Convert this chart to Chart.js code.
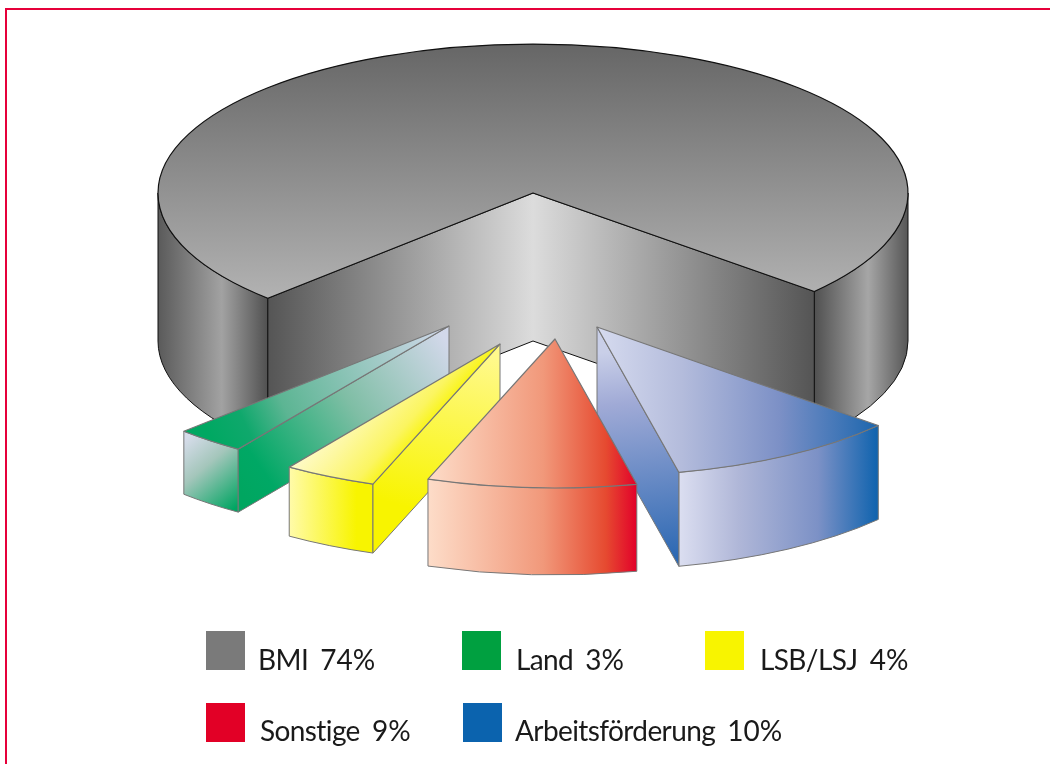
<!DOCTYPE html>
<html lang="de">
<head>
<meta charset="utf-8">
<title>Finanzierung</title>
<script src="https://cdn.jsdelivr.net/npm/chart.js@4"></script>
<style>
  html, body { margin: 0; padding: 0; background: #fff; overflow: hidden; }
  #wrap { position: relative; width: 1050px; height: 764px; overflow: hidden; }
  #frame { position: absolute; left: 5px; top: 8px; width: 1100px; height: 800px;
           border-left: 2.5px solid #e6003a; border-top: 2.5px solid #e6003a; }
  canvas { position: absolute; left: 0; top: 0; }
  .swatch { position: absolute; width: 39px; height: 39px; }
  .label { position: absolute; font: 28px Lato, sans-serif; line-height: 40px; color: #1a1a1a; white-space: nowrap; word-spacing: 5px; }
  .label span { letter-spacing: -0.6px; }
</style>
</head>
<body>
<div id="wrap">
  <div id="frame"></div>
  <canvas id="pie" width="1050" height="764"></canvas>
</div>
<script>
// ===== Data =====
const categories = ['BMI', 'Land', 'LSB/LSJ', 'Sonstige', 'Arbeitsförderung'];
const shares = [74, 3, 4, 9, 10];
const legendColors = ['#7a7a7a', '#00a040', '#f8f400', '#e20026', '#0b63ae'];
// clockwise order around the pie, the legend runs the other way
const sliceOrder = [0, 4, 3, 2, 1];

// ===== Look of the 3D pie =====
const PIE_Y = 193;      // screen y of the pie centre
const SQUASH = 0.397;   // ellipse ry / rx
const explode = { BMI: [0, 0], Land: [-84, 133], 'LSB/LSJ': [-33, 151], Sonstige: [22, 146], 'Arbeitsförderung': [64, 134] };
const depth = { BMI: 148, Land: 63, 'LSB/LSJ': 69, Sonstige: 87, 'Arbeitsförderung': 94 };
const lineColor = { BMI: '#111', Land: '#777', 'LSB/LSJ': '#777', Sonstige: '#777', 'Arbeitsförderung': '#777' };

// gradients: [x0, y0, x1, y1, [stop, color], ...] in screen coordinates
const topFill = {
  BMI: [0, 44, 0, 298, [0, '#666'], [1, '#b2b2b2']],
  Land: [212, 440, 449, 325, [0, '#00a862'], [0.14, '#0fa86c'], [0.3, '#5cb593'], [1, '#d6daee']],
  'LSB/LSJ': [300, 425, 385, 500, [0.15, '#fffbd0'], [0.4, '#fdf8a0'], [0.7, '#fbf560'], [0.9, '#f8f400']],
  Sonstige: [429, 0, 637, 0, [0, '#fddcc8'], [0.55, '#f1987a'], [0.85, '#e64a30'], [1, '#e2002a']],
  'Arbeitsförderung': [597, 0, 878, 0, [0, '#d6dbef'], [0.3, '#b4bcdc'], [0.65, '#7c90c6'], [1, '#1c66ae']]
};
const outerFill = {
  BMILeft: [158, 0, 268, 0, [0, '#5a5a5a'], [0.58, '#a2a2a2'], [1, '#505050']],
  BMIRight: [813, 0, 908, 0, [0, '#4e4e4e'], [0.58, '#a6a6a6'], [1, '#565656']],
  Land: [184, 440, 239, 505, [0, '#d6dcea'], [0.4, '#a4c6bb'], [1, '#00a562']],
  'LSB/LSJ': [290, 0, 373, 0, [0, '#fffba8'], [0.8, '#f8f400'], [1, '#f8f400']],
  Sonstige: [429, 0, 637, 0, [0, '#fddcc8'], [0.55, '#f1987a'], [0.85, '#e64a30'], [1, '#e2002a']],
  'Arbeitsförderung': [678, 0, 878, 0, [0, '#dcdff1'], [0.3, '#b0b7d8'], [0.7, '#7c91c6'], [1, '#0f63ae']]
};
const cutFill = {
  BMILeft: [268, 0, 533, 0, [0, '#555'], [1, '#dcdcdc']],
  BMIRight: [533, 0, 813, 0, [0, '#dcdcdc'], [1, '#555']],
  Land: [239, 490, 449, 345, [0, '#00a660'], [0.12, '#00a865'], [0.55, '#7fbea5'], [1, '#d2d8ea']],
  'LSB/LSJ': [420, 530, 470, 350, [0.1, '#f8f400'], [1, '#fff98c']],
  'Arbeitsförderung': [625, 350, 650, 560, [0, '#c9cfe8'], [0.25, '#a0aad6'], [1, '#2d69b3']]
};

// ===== Helpers =====
function makeGradient(ctx, spec) {
  const [x0, y0, x1, y1, ...stops] = spec;
  const g = ctx.createLinearGradient(x0, y0, x1, y1);
  stops.forEach(s => g.addColorStop(s[0], s[1]));
  return g;
}

// same gradient, for use inside the squashed transform of a top face.
// the axis has to be corrected or the colour bands tilt after squashing
function squashedGradient(ctx, spec, ox, y, arcY) {
  const [x0, y0, x1, y1, ...stops] = spec;
  const dx = x1 - x0;
  const dy = y1 - y0;
  const c = (dx * dx + dy * dy) / (dx * dx + SQUASH * SQUASH * dy * dy);
  const sx = x0 - ox;
  const sy = arcY + (y0 - y) / SQUASH;
  return makeGradient(ctx, [sx, sy, sx + c * dx, sy + c * SQUASH * dy, ...stops]);
}

function facePath(ctx, x, y, r, h, a0, a1) {
  ctx.beginPath();
  ctx.ellipse(x, y, r, r * SQUASH, 0, a0, a1, false);
  ctx.ellipse(x, y + h, r, r * SQUASH, 0, a1, a0, true);
  ctx.closePath();
}

function paintFace(ctx, fill, line) {
  ctx.fillStyle = fill;
  ctx.fill();
  ctx.strokeStyle = line;
  ctx.lineWidth = 1;
  ctx.stroke();
}

function drawOuter(ctx, name, x, y, r, h, start, end) {
  // only the part of the rim that faces the viewer
  [[0, Math.PI], [2 * Math.PI, 3 * Math.PI]].forEach(([lo, hi]) => {
    const a0 = Math.max(start, lo);
    const a1 = Math.min(end, hi);
    if (a1 <= a0) return;
    const key = outerFill[name] ? name : (a0 > Math.PI ? name + 'Right' : name + 'Left');
    facePath(ctx, x, y, r, h, a0, a1);
    paintFace(ctx, makeGradient(ctx, outerFill[key]), lineColor[name]);
  });
}

function drawCut(ctx, name, x, y, r, h, angle, side) {
  if (side === 'start' ? Math.cos(angle) >= 0 : Math.cos(angle) <= 0) return;
  const key = cutFill[name] ? name : (side === 'start' ? name + 'Left' : name + 'Right');
  const ex = x + r * Math.cos(angle);
  const ey = y + r * SQUASH * Math.sin(angle);
  ctx.beginPath();
  ctx.moveTo(x, y);
  ctx.lineTo(ex, ey);
  ctx.lineTo(ex, ey + h);
  ctx.lineTo(x, y + h);
  // the two big walls meet without a visible edge
  if (name !== 'BMI') ctx.closePath();
  paintFace(ctx, makeGradient(ctx, cutFill[key]), lineColor[name]);
}

// ===== Plugin: the library's arcs get squashed, moved out and given a body =====
const pie3d = {
  id: 'pie3d',
  beforeDatasetDraw(chart, args) {
    const ctx = chart.ctx;
    const arcs = args.meta.data;
    const labels = chart.data.labels;
    // BMI first, then back to front
    const paintOrder = ['BMI', 'Land', 'LSB/LSJ', 'Arbeitsförderung', 'Sonstige'];
    paintOrder.forEach(name => {
      const arc = arcs[labels.indexOf(name)];
      const [ox, oy] = explode[name];
      const h = depth[name];
      const r = arc.outerRadius;
      const x = arc.x + ox;
      const y = PIE_Y + oy;

      ctx.save();
      ctx.lineJoin = 'round';
      drawOuter(ctx, name, x, y, r, h, arc.startAngle, arc.endAngle);
      drawCut(ctx, name, x, y, r, h, arc.startAngle, 'start');
      drawCut(ctx, name, x, y, r, h, arc.endAngle, 'end');

      // top face, drawn by the arc element itself
      ctx.save();
      ctx.translate(ox, y);
      ctx.scale(1, SQUASH);
      ctx.translate(0, -arc.y);
      const fill = squashedGradient(ctx, topFill[name], ox, y, arc.y);
      arc.options = Object.assign({}, arc.options, { backgroundColor: fill, borderWidth: 0 });
      arc.draw(ctx);
      ctx.restore();

      ctx.beginPath();
      ctx.moveTo(x, y);
      ctx.ellipse(x, y, r, r * SQUASH, 0, arc.startAngle, arc.endAngle, false);
      ctx.closePath();
      ctx.strokeStyle = lineColor[name];
      ctx.lineWidth = 1.2;
      ctx.stroke();
      ctx.restore();
    });
    return false;
  }
};

// ===== Chart =====
const chart = new Chart(document.getElementById('pie'), {
  type: 'pie',
  data: {
    labels: sliceOrder.map(i => categories[i]),
    datasets: [{
      data: sliceOrder.map(i => shares[i]),
      backgroundColor: sliceOrder.map(i => legendColors[i]),
      borderWidth: 0
    }]
  },
  options: {
    responsive: false,
    animation: false,
    rotation: 225,
    radius: 375,
    layout: { padding: { left: 16 } },
    plugins: { legend: { display: false }, tooltip: { enabled: false } }
  },
  plugins: [pie3d]
});

// ===== Legend =====
const swatchPos = [[206, 631], [462, 631], [705, 631], [206, 703], [463, 703]];
const labelPos = [[258, 639], [516, 639], [760, 639], [260, 710], [515, 710]];
const wrap = document.getElementById('wrap');
categories.forEach((name, i) => {
  const box = document.createElement('div');
  box.className = 'swatch';
  box.style.left = swatchPos[i][0] + 'px';
  box.style.top = swatchPos[i][1] + 'px';
  box.style.background = legendColors[i];
  wrap.appendChild(box);

  const text = document.createElement('div');
  text.className = 'label';
  text.style.left = labelPos[i][0] + 'px';
  text.style.top = labelPos[i][1] + 'px';
  text.innerHTML = `<span>${name}</span> ${shares[i]}%`;
  wrap.appendChild(text);
});
</script>
</body>
</html>
